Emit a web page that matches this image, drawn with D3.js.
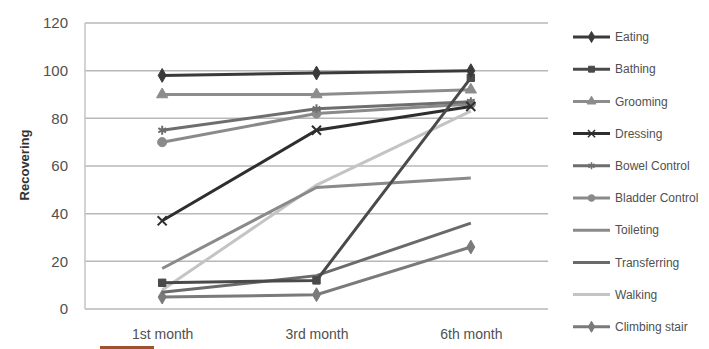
<!DOCTYPE html>
<meta charset="utf-8">
<script src="https://d3js.org/d3.v7.min.js"></script>
<style>
  body { margin: 0; background: #fff; }
  text { font-family: "Liberation Sans", Arial, sans-serif; fill: #444; }
</style>
<div id="my_dataviz"></div>
<script>
// months on the x axis
var months = ["1st month", "3rd month", "6th month"];
var yTicks = [0, 20, 40, 60, 80, 100, 120];

// one array per activity
var eating         = [98, 99, 100];
var bathing        = [11, 12, 97];
var grooming       = [90, 90, 92];
var dressing       = [37, 75, 85];
var bowelControl   = [75, 84, 87];
var bladderControl = [70, 82, 86];
var toileting      = [17, 51, 55];
var transferring   = [7, 14, 36];
var walking        = [8, 52, 83];
var climbingStair  = [5, 6, 26];

var seriesNames = ["Eating", "Bathing", "Grooming", "Dressing", "Bowel Control",
  "Bladder Control", "Toileting", "Transferring", "Walking", "Climbing stair"];
var seriesValues = [eating, bathing, grooming, dressing, bowelControl,
  bladderControl, toileting, transferring, walking, climbingStair];
var seriesColors = ["#3a3a3a", "#4a4a4a", "#8c8c8c", "#2e2e2e", "#6e6e6e",
  "#8a8a8a", "#8a8a8a", "#6a6a6a", "#c4c4c4", "#7a7a7a"];
var seriesMarkers = ["diamond", "square", "triangle", "cross", "asterisk",
  "circle", "none", "none", "none", "diamond"];

var series = seriesNames.map(function(n, i) {
  return { name: n, values: seriesValues[i], color: seriesColors[i], marker: seriesMarkers[i] };
});

var margin = {top: 23, right: 161, bottom: 40, left: 85},
    width = 709 - margin.left - margin.right,
    height = 309 - margin.top;

var svg = d3.select("#my_dataviz")
  .append("svg")
  .attr("width", 709)
  .attr("height", 349);

var g = svg.append("g")
  .attr("transform", "translate(" + margin.left + "," + margin.top + ")");

var x = d3.scalePoint().domain(months).range([0, width]).padding(0.5);
var y = d3.scaleLinear().domain([0, 120]).range([height, 0]);

// gridlines
g.selectAll(".grid")
  .data(yTicks)
  .enter().append("line")
  .attr("x1", 0).attr("x2", width)
  .attr("y1", function(d) { return y(d); })
  .attr("y2", function(d) { return y(d); })
  .style("stroke", "#b8b8b8")
  .style("stroke-width", 1.5);

// left axis line
g.append("line")
  .attr("x1", 0).attr("x2", 0).attr("y1", 0).attr("y2", height)
  .style("stroke", "#c4c4c4").style("stroke-width", 1.5);

// y axis
var yAxis = g.append("g")
  .attr("transform", "translate(-11,0)")
  .call(d3.axisLeft(y).tickValues(yTicks).tickSize(0).tickPadding(6));
yAxis.select(".domain").remove();
yAxis.selectAll("text").style("font-size", "15px").style("fill", "#505050");

// x axis
var xAxis = g.append("g")
  .attr("transform", "translate(0," + height + ")")
  .call(d3.axisBottom(x).tickSize(0).tickPadding(20));
xAxis.select(".domain").remove();
xAxis.selectAll("text").style("font-size", "14px").style("fill", "#505050");

// y title
svg.append("text")
  .attr("transform", "translate(29,165) rotate(-90)")
  .attr("text-anchor", "middle")
  .style("font-size", "13px")
  .style("font-weight", "bold")
  .style("fill", "#333")
  .text("Recovering");

var line = d3.line()
  .x(function(d, i) { return x(months[i]); })
  .y(function(d) { return y(d); });

function symbolFor(m) {
  if (m === "diamond") return d3.symbol().type(d3.symbolDiamond).size(55);
  if (m === "square") return d3.symbol().type(d3.symbolSquare).size(55);
  if (m === "triangle") return d3.symbol().type(d3.symbolTriangle).size(55);
  if (m === "cross") return d3.symbol().type(d3.symbolX || d3.symbolTimes).size(55);
  if (m === "asterisk") return d3.symbol().type(d3.symbolAsterisk).size(55);
  if (m === "circle") return d3.symbol().type(d3.symbolCircle).size(65);
  return null;
}

// draw lines back to front
series.slice().reverse().forEach(function(s) {
  g.append("path")
    .datum(s.values)
    .attr("d", line)
    .style("fill", "none")
    .style("stroke", s.color)
    .style("stroke-width", 3);

  var sym = symbolFor(s.marker);
  if (sym) {
    var stroked = (s.marker === "cross" || s.marker === "asterisk");
    g.selectAll(null)
      .data(s.values)
      .enter().append("path")
      .attr("d", sym)
      .attr("transform", function(d, i) { return "translate(" + x(months[i]) + "," + y(d) + ")"; })
      .style("fill", stroked ? "none" : s.color)
      .style("stroke", s.color)
      .style("stroke-width", stroked ? 2 : 1);
  }
});

// legend
var legend = svg.append("g").attr("transform", "translate(573,37)");
var item = legend.selectAll(".item")
  .data(series)
  .enter().append("g")
  .attr("transform", function(d, i) { return "translate(0," + (i * 32.2) + ")"; });

item.append("line")
  .attr("x1", 0).attr("x2", 37)
  .style("stroke", function(d) { return d.color; })
  .style("stroke-width", 3);

item.each(function(d) {
  var sym = symbolFor(d.marker);
  if (!sym) return;
  var stroked = (d.marker === "cross" || d.marker === "asterisk");
  d3.select(this).append("path")
    .attr("d", sym.size(35))
    .attr("transform", "translate(18.5,0)")
    .style("fill", stroked ? "none" : d.color)
    .style("stroke", d.color)
    .style("stroke-width", stroked ? 1.5 : 1);
});

item.append("text")
  .attr("x", 42)
  .attr("dy", "0.35em")
  .style("font-size", "12px")
  .style("fill", "#505050")
  .text(function(d) { return d.name; });

// small brown stroke under the first month label
svg.append("rect")
  .attr("x", 100).attr("y", 346).attr("width", 54).attr("height", 3)
  .style("fill", "#a0522d");
</script>
